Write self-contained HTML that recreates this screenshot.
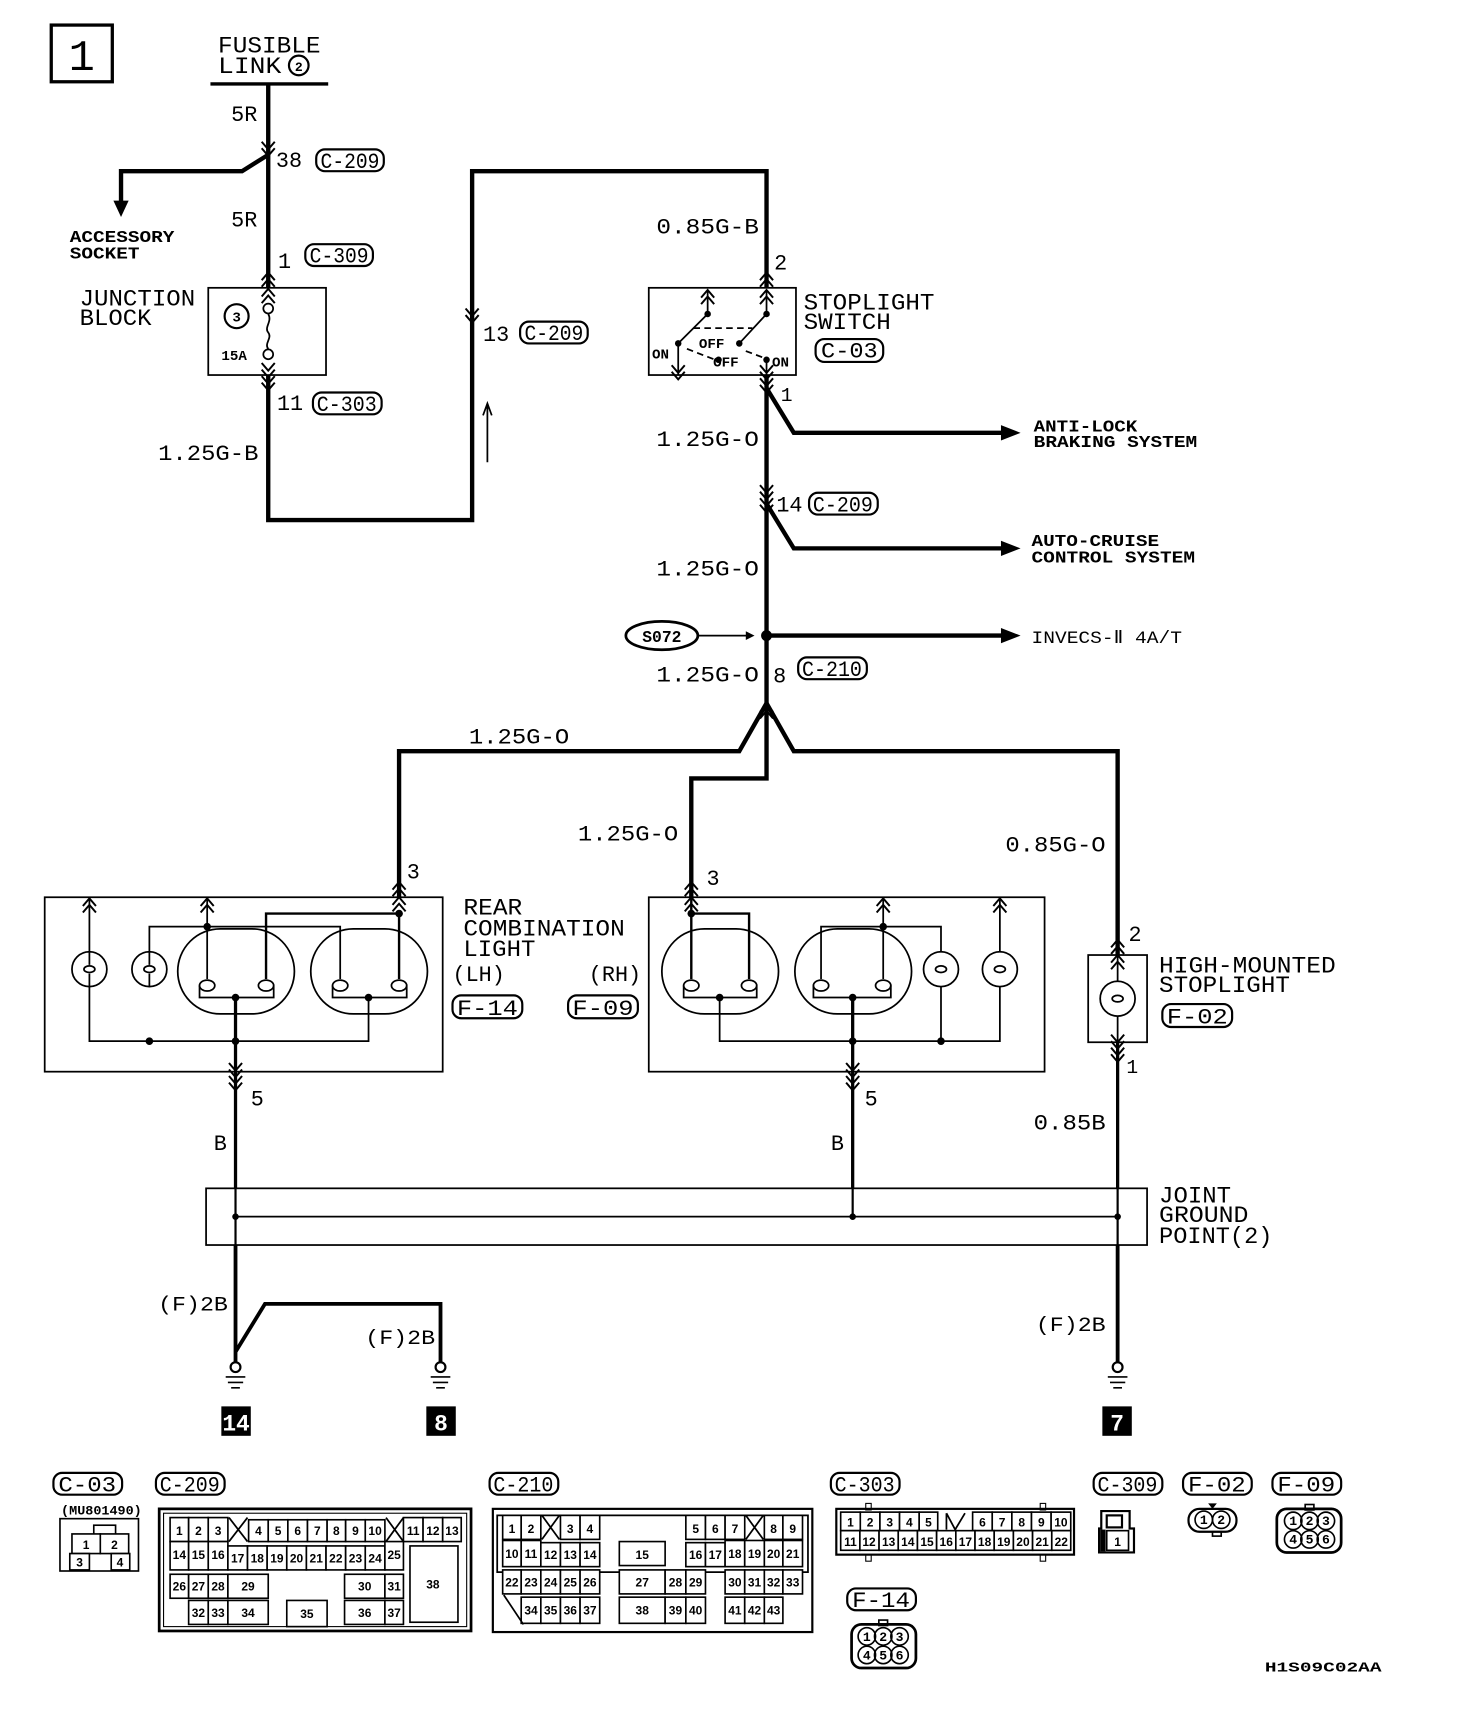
<!DOCTYPE html>
<html><head><meta charset="utf-8"><style>
html,body{margin:0;padding:0;background:#fff}
svg{display:block}
text{font-family:"Liberation Mono","DejaVu Sans Mono",monospace;fill:#000}
.w{stroke:#000;stroke-width:4;fill:none}
.t{stroke:#000;stroke-width:1.6;fill:none}
.b{font-weight:bold}
.c rect{fill:#fff;stroke:#000;stroke-width:1.5}
.c text{font-family:"Liberation Sans",sans-serif;font-weight:bold;font-size:11px;text-anchor:middle}
</style></head><body>
<svg width="1472" height="1716" viewBox="0 0 1350 1574" preserveAspectRatio="none" xmlns="http://www.w3.org/2000/svg">
<defs>
<path id="cd" d="M-6,-7 L0,0 L6,-7 M-6,-1 L0,6 L6,-1" fill="none" stroke="#000" stroke-width="1.8"/>
<path id="cu" d="M-6,7 L0,0 L6,7 M-6,1 L0,-6 L6,1" fill="none" stroke="#000" stroke-width="1.8"/>
<g id="gnd"><circle cx="0" cy="0" r="4.5" fill="#fff" stroke="#000" stroke-width="2"/><path d="M-9,9 H9 M-7,14 H7 M-4,19 H4" stroke="#000" stroke-width="1.5"/></g>
</defs>

<!-- box 1 -->
<rect x="47" y="23" width="56" height="52" fill="none" stroke="#000" stroke-width="3"/>
<text x="75" y="64" font-size="40" text-anchor="middle" font-family="Liberation Sans">1</text>

<!-- fusible link -->
<text x="200" y="48" font-size="21" textLength="94" lengthAdjust="spacingAndGlyphs">FUSIBLE</text>
<text x="200" y="67" font-size="21" textLength="58" lengthAdjust="spacingAndGlyphs">LINK</text>
<circle cx="274" cy="60" r="9" fill="none" stroke="#000" stroke-width="2"/><text x="274" y="65" font-size="12" text-anchor="middle" class="b">2</text>
<line x1="193" y1="77" x2="301" y2="77" stroke="#000" stroke-width="3"/>
<path class="w" d="M246,77 V264"/>
<text x="212" y="111" font-size="20">5R</text>
<use href="#cd" x="246" y="137"/>
<text x="253" y="153" font-size="20">38</text>
<g><rect x="290" y="137" width="62" height="20" rx="8" fill="none" stroke="#000" stroke-width="2"/><text x="321" y="154" font-size="20" text-anchor="middle" textLength="54" lengthAdjust="spacingAndGlyphs">C-209</text></g>
<path class="w" d="M246,142 L222,157 H111 V186"/>
<path d="M104,184 L118,184 L111,199 Z" fill="#000"/>
<text x="64" y="222" font-size="15" class="b" textLength="96" lengthAdjust="spacingAndGlyphs">ACCESSORY</text>
<text x="64" y="237" font-size="15" class="b" textLength="64" lengthAdjust="spacingAndGlyphs">SOCKET</text>
<text x="212" y="208" font-size="20">5R</text>
<text x="255" y="246" font-size="20">1</text>
<g><rect x="280" y="224" width="62" height="20" rx="8" fill="none" stroke="#000" stroke-width="2"/><text x="311" y="241" font-size="20" text-anchor="middle" textLength="54" lengthAdjust="spacingAndGlyphs">C-309</text></g>
<use href="#cu" x="246" y="256"/>

<!-- junction block -->
<text x="73" y="280" font-size="21" textLength="106" lengthAdjust="spacingAndGlyphs">JUNCTION</text>
<text x="73" y="298" font-size="21" textLength="66" lengthAdjust="spacingAndGlyphs">BLOCK</text>
<rect x="191" y="264" width="108" height="80" fill="none" stroke="#000" stroke-width="1.6"/>
<use href="#cu" x="246" y="271"/>
<circle cx="217" cy="290" r="11" fill="none" stroke="#000" stroke-width="2"/><text x="217" y="295" font-size="13" text-anchor="middle" class="b">3</text>
<circle cx="246" cy="283" r="4.5" fill="#fff" stroke="#000" stroke-width="1.6"/>
<circle cx="246" cy="325" r="4.5" fill="#fff" stroke="#000" stroke-width="1.6"/>
<path class="t" d="M246,288 C250,295 242,300 246,305 C250,310 242,315 246,320"/>
<text x="203" y="330" font-size="13" class="b" font-family="Liberation Sans">15A</text>
<use href="#cd" x="246" y="340"/>
<use href="#cd" x="246" y="352"/>
<path class="w" d="M246,344 V477 H433 V157 H703 V264"/>
<text x="254" y="376" font-size="20">11</text>
<g><rect x="287" y="360" width="63" height="20" rx="8" fill="none" stroke="#000" stroke-width="2"/><text x="318" y="377" font-size="20" text-anchor="middle" textLength="55" lengthAdjust="spacingAndGlyphs">C-303</text></g>
<text x="145" y="422" font-size="20" textLength="92" lengthAdjust="spacingAndGlyphs">1.25G-B</text>
<use href="#cd" x="433" y="290"/>
<text x="443" y="313" font-size="20">13</text>
<g><rect x="477" y="295" width="62" height="20" rx="8" fill="none" stroke="#000" stroke-width="2"/><text x="508" y="312" font-size="20" text-anchor="middle" textLength="54" lengthAdjust="spacingAndGlyphs">C-209</text></g>
<path class="t" d="M447,424 V372 M443,381 L447,370 L451,381"/>

<!-- stoplight switch -->
<text x="602" y="214" font-size="20" textLength="94" lengthAdjust="spacingAndGlyphs">0.85G-B</text>
<text x="710" y="247" font-size="20">2</text>
<use href="#cu" x="703" y="256"/>
<rect x="595" y="264" width="135" height="80" fill="none" stroke="#000" stroke-width="1.6"/>
<use href="#cu" x="649" y="272"/><use href="#cu" x="703" y="272"/>
<path class="t" d="M649,266 V288 L622,315 V344 M703,266 V288 L678,315"/>
<circle cx="649" cy="288" r="3" fill="#000"/><circle cx="703" cy="288" r="3" fill="#000"/>
<circle cx="622" cy="315" r="3" fill="#000"/><circle cx="678" cy="315" r="3" fill="#000"/>
<circle cx="659" cy="330" r="3" fill="#000"/><circle cx="703" cy="330" r="3" fill="#000"/>
<path d="M636,301 H690 M630,320 L656,330 M684,322 L700,328" stroke="#000" stroke-width="1.6" stroke-dasharray="6,4" fill="none"/>
<path class="t" d="M703,330 V344"/>
<use href="#cd" x="622" y="342"/><use href="#cd" x="703" y="342"/>
<text x="598" y="329" font-size="13" class="b">ON</text>
<text x="641" y="319" font-size="13" class="b">OFF</text>
<text x="654" y="336" font-size="13" class="b">OFF</text>
<text x="708" y="336" font-size="13" class="b">ON</text>
<text x="737" y="284" font-size="21" textLength="120" lengthAdjust="spacingAndGlyphs">STOPLIGHT</text>
<text x="737" y="302" font-size="21" textLength="80" lengthAdjust="spacingAndGlyphs">SWITCH</text>
<g><rect x="748" y="311" width="62" height="21" rx="8" fill="none" stroke="#000" stroke-width="2"/><text x="779" y="328" font-size="20" text-anchor="middle" textLength="52" lengthAdjust="spacingAndGlyphs">C-03</text></g>
<use href="#cd" x="703" y="354"/>
<text x="716" y="368" font-size="18">1</text>
<path class="w" d="M703,344 V645"/>
<path class="w" d="M703,356 L728,397 H920"/>
<path d="M918,390 L936,397 L918,404 Z" fill="#000"/>
<text x="948" y="396" font-size="15" class="b" textLength="95" lengthAdjust="spacingAndGlyphs">ANTI-LOCK</text>
<text x="948" y="410" font-size="15" class="b" textLength="150" lengthAdjust="spacingAndGlyphs">BRAKING SYSTEM</text>
<text x="602" y="409" font-size="20" textLength="94" lengthAdjust="spacingAndGlyphs">1.25G-O</text>
<use href="#cd" x="703" y="452"/><use href="#cd" x="703" y="464"/>
<text x="712" y="469" font-size="20">14</text>
<g><rect x="742" y="452" width="63" height="20" rx="8" fill="none" stroke="#000" stroke-width="2"/><text x="773" y="469" font-size="20" text-anchor="middle" textLength="55" lengthAdjust="spacingAndGlyphs">C-209</text></g>
<path class="w" d="M703,462 L728,503 H920"/>
<path d="M918,496 L936,503 L918,510 Z" fill="#000"/>
<text x="946" y="501" font-size="15" class="b" textLength="117" lengthAdjust="spacingAndGlyphs">AUTO-CRUISE</text>
<text x="946" y="516" font-size="15" class="b" textLength="150" lengthAdjust="spacingAndGlyphs">CONTROL SYSTEM</text>
<text x="602" y="528" font-size="20" textLength="94" lengthAdjust="spacingAndGlyphs">1.25G-O</text>
<ellipse cx="607" cy="583" rx="33" ry="13" fill="#fff" stroke="#000" stroke-width="2.5"/>
<text x="607" y="589" font-size="15" class="b" text-anchor="middle" font-family="Liberation Sans">S072</text>
<path class="t" d="M640,583 H686"/><path d="M684,579 L692,583 L684,587 Z" fill="#000"/>
<circle cx="703" cy="583" r="5" fill="#000"/>
<path class="w" d="M703,583 H920"/>
<path d="M918,576 L936,583 L918,590 Z" fill="#000"/>
<text x="946" y="590" font-size="16" textLength="138" lengthAdjust="spacingAndGlyphs">INVECS-Ⅱ 4A/T</text>
<text x="602" y="625" font-size="20" textLength="94" lengthAdjust="spacingAndGlyphs">1.25G-O</text>
<text x="709" y="626" font-size="20">8</text>
<g><rect x="732" y="603" width="63" height="20" rx="8" fill="none" stroke="#000" stroke-width="2"/><text x="763" y="620" font-size="20" text-anchor="middle" textLength="55" lengthAdjust="spacingAndGlyphs">C-210</text></g>
<use href="#cu" x="703" y="652"/>

<!-- branches -->
<path class="w" d="M703,645 L678,689 H366 V823"/>
<path class="w" d="M703,645 V714 H634 V823"/>
<path class="w" d="M703,645 L728,689 H1025 V876"/>
<text x="430" y="682" font-size="20" textLength="92" lengthAdjust="spacingAndGlyphs">1.25G-O</text>
<text x="530" y="771" font-size="20" textLength="92" lengthAdjust="spacingAndGlyphs">1.25G-O</text>
<text x="922" y="781" font-size="20" textLength="92" lengthAdjust="spacingAndGlyphs">0.85G-O</text>
<text x="373" y="806" font-size="20">3</text>
<text x="648" y="812" font-size="20">3</text>
<text x="1035" y="863" font-size="20">2</text>
<use href="#cu" x="366" y="815"/><use href="#cu" x="366" y="829"/>
<use href="#cu" x="634" y="815"/><use href="#cu" x="634" y="829"/>
<use href="#cu" x="1025" y="868"/><use href="#cu" x="1025" y="882"/>

<!-- LH lamp -->
<rect x="41" y="823" width="365" height="160" fill="none" stroke="#000" stroke-width="1.6"/>
<use href="#cu" x="82" y="830"/><use href="#cu" x="190" y="830"/>
<circle cx="82" cy="889" r="16" fill="none" stroke="#000" stroke-width="1.6"/>
<circle cx="137" cy="889" r="16" fill="none" stroke="#000" stroke-width="1.6"/>
<path class="t" d="M82,873 V885 M82,893 V905 M137,873 V885 M137,893 V905"/>
<ellipse cx="82" cy="889" rx="5" ry="3" class="t"/><ellipse cx="137" cy="889" rx="5" ry="3" class="t"/>
<rect x="163" y="852" width="107" height="78" rx="39" fill="none" stroke="#000" stroke-width="1.6"/>
<rect x="285" y="852" width="107" height="78" rx="39" fill="none" stroke="#000" stroke-width="1.6"/>
<path class="t" d="M82,823 V873 M82,905 V955 H338 V915 M137,873 V850 H312 V898 M190,823 V898"/>
<path d="M244,898 V838 H366 V898" stroke="#000" stroke-width="2.2" fill="none"/>
<ellipse cx="190" cy="904" rx="7" ry="5" class="t"/><ellipse cx="244" cy="904" rx="7" ry="5" class="t"/>
<ellipse cx="312" cy="904" rx="7" ry="5" class="t"/><ellipse cx="366" cy="904" rx="7" ry="5" class="t"/>
<path class="t" d="M183,904 V915 H251 V904 M305,904 V915 H373 V904"/>
<circle cx="190" cy="850" r="3.5" fill="#000"/><circle cx="366" cy="838" r="3.5" fill="#000"/>
<circle cx="216" cy="915" r="3.5" fill="#000"/><circle cx="338" cy="915" r="3.5" fill="#000"/>
<circle cx="137" cy="955" r="3.5" fill="#000"/><circle cx="216" cy="955" r="3.5" fill="#000"/>
<path class="w" d="M216,915 V1090" style="stroke-width:3"/>
<use href="#cd" x="216" y="982"/><use href="#cd" x="216" y="994"/>
<text x="425" y="839" font-size="21" textLength="54" lengthAdjust="spacingAndGlyphs">REAR</text>
<text x="425" y="858" font-size="21" textLength="148" lengthAdjust="spacingAndGlyphs">COMBINATION</text>
<text x="425" y="877" font-size="21" textLength="66" lengthAdjust="spacingAndGlyphs">LIGHT</text>
<text x="415" y="900" font-size="20">(LH)</text>
<text x="540" y="900" font-size="20">(RH)</text>
<g><rect x="415" y="913" width="64" height="21" rx="8" fill="none" stroke="#000" stroke-width="2"/><text x="447" y="931" font-size="20" text-anchor="middle" textLength="56" lengthAdjust="spacingAndGlyphs">F-14</text></g>
<g><rect x="521" y="913" width="64" height="21" rx="8" fill="none" stroke="#000" stroke-width="2"/><text x="553" y="931" font-size="20" text-anchor="middle" textLength="56" lengthAdjust="spacingAndGlyphs">F-09</text></g>

<!-- RH lamp -->
<rect x="595" y="823" width="363" height="160" fill="none" stroke="#000" stroke-width="1.6"/>
<use href="#cu" x="810" y="830"/><use href="#cu" x="917" y="830"/>
<rect x="607" y="852" width="107" height="78" rx="39" fill="none" stroke="#000" stroke-width="1.6"/>
<rect x="729" y="852" width="107" height="78" rx="39" fill="none" stroke="#000" stroke-width="1.6"/>
<circle cx="863" cy="889" r="16" fill="none" stroke="#000" stroke-width="1.6"/>
<circle cx="917" cy="889" r="16" fill="none" stroke="#000" stroke-width="1.6"/>
<ellipse cx="863" cy="889" rx="5" ry="3" class="t"/><ellipse cx="917" cy="889" rx="5" ry="3" class="t"/>
<path d="M634,823 V898 M634,838 H687 V898" stroke="#000" stroke-width="2.2" fill="none"/>
<path class="t" d="M753,898 V850 H863 V873 M863,905 V955 H660 V915 M810,823 V898 M917,823 V873 M917,905 V955 H863"/>
<ellipse cx="634" cy="904" rx="7" ry="5" class="t"/><ellipse cx="687" cy="904" rx="7" ry="5" class="t"/>
<ellipse cx="753" cy="904" rx="7" ry="5" class="t"/><ellipse cx="810" cy="904" rx="7" ry="5" class="t"/>
<path class="t" d="M627,904 V915 H694 V904 M746,904 V915 H817 V904"/>
<circle cx="810" cy="850" r="3.5" fill="#000"/><circle cx="634" cy="838" r="3.5" fill="#000"/>
<circle cx="660" cy="915" r="3.5" fill="#000"/><circle cx="782" cy="915" r="3.5" fill="#000"/>
<circle cx="782" cy="955" r="3.5" fill="#000"/><circle cx="863" cy="955" r="3.5" fill="#000"/>
<path class="w" d="M782,915 V1090" style="stroke-width:3"/>
<use href="#cd" x="782" y="982"/><use href="#cd" x="782" y="994"/>

<!-- high mounted -->
<rect x="998" y="876" width="54" height="80" fill="none" stroke="#000" stroke-width="1.6"/>
<circle cx="1025" cy="916" r="16" fill="none" stroke="#000" stroke-width="1.6"/>
<ellipse cx="1025" cy="916" rx="5" ry="3" class="t"/>
<path class="t" d="M1025,876 V900 M1025,932 V956"/>
<use href="#cd" x="1025" y="956"/><use href="#cd" x="1025" y="968"/>
<text x="1063" y="892" font-size="21" textLength="162" lengthAdjust="spacingAndGlyphs">HIGH-MOUNTED</text>
<text x="1063" y="910" font-size="21" textLength="120" lengthAdjust="spacingAndGlyphs">STOPLIGHT</text>
<g><rect x="1066" y="921" width="64" height="21" rx="8" fill="none" stroke="#000" stroke-width="2"/><text x="1098" y="939" font-size="20" text-anchor="middle" textLength="56" lengthAdjust="spacingAndGlyphs">F-02</text></g>
<path class="w" d="M1025,956 V1090" style="stroke-width:3"/>
<text x="1033" y="984" font-size="18">1</text>
<text x="230" y="1014" font-size="20">5</text>
<text x="793" y="1014" font-size="20">5</text>
<text x="196" y="1055" font-size="20">B</text>
<text x="762" y="1055" font-size="20">B</text>
<text x="948" y="1036" font-size="20" textLength="66" lengthAdjust="spacingAndGlyphs">0.85B</text>

<!-- joint ground -->
<rect x="189" y="1090" width="863" height="52" fill="none" stroke="#000" stroke-width="1.6"/>
<path class="t" d="M216,1116 H1025"/>
<circle cx="216" cy="1116" r="3" fill="#000"/><circle cx="782" cy="1116" r="3" fill="#000"/><circle cx="1025" cy="1116" r="3" fill="#000"/>
<path class="w" d="M216,1090 V1142 M782,1090 V1116 M1025,1090 V1142" style="stroke-width:2"/>
<text x="1063" y="1103" font-size="21" textLength="66" lengthAdjust="spacingAndGlyphs">JOINT</text>
<text x="1063" y="1121" font-size="21" textLength="82" lengthAdjust="spacingAndGlyphs">GROUND</text>
<text x="1063" y="1140" font-size="21" textLength="104" lengthAdjust="spacingAndGlyphs">POINT(2)</text>
<path class="w" d="M216,1142 V1249 M216,1240 L243,1196 H404 V1249 M1025,1142 V1249" style="stroke-width:3.5"/>
<text x="145" y="1202" font-size="19" textLength="64" lengthAdjust="spacingAndGlyphs">(F)2B</text>
<text x="335" y="1233" font-size="19" textLength="64" lengthAdjust="spacingAndGlyphs">(F)2B</text>
<text x="950" y="1221" font-size="19" textLength="64" lengthAdjust="spacingAndGlyphs">(F)2B</text>
<use href="#gnd" x="216" y="1254"/><use href="#gnd" x="404" y="1254"/><use href="#gnd" x="1025" y="1254"/>
<rect x="203" y="1290" width="27" height="27" fill="#000"/><text x="216.5" y="1312" font-size="21" fill="#fff" style="fill:#fff" text-anchor="middle" class="b" font-family="Liberation Sans">14</text>
<rect x="391" y="1290" width="27" height="27" fill="#000"/><text x="404.5" y="1312" font-size="21" style="fill:#fff" text-anchor="middle" class="b" font-family="Liberation Sans">8</text>
<rect x="1011" y="1290" width="27" height="27" fill="#000"/><text x="1024.5" y="1312" font-size="21" style="fill:#fff" text-anchor="middle" class="b" font-family="Liberation Sans">7</text>

<!-- bottom connector tags -->
<g font-size="20">
<rect x="49" y="1351" width="63" height="20" rx="8" fill="none" stroke="#000" stroke-width="2"/><text x="80" y="1368" text-anchor="middle" textLength="53" lengthAdjust="spacingAndGlyphs">C-03</text>
<rect x="143" y="1351" width="63" height="20" rx="8" fill="none" stroke="#000" stroke-width="2"/><text x="174" y="1368" text-anchor="middle" textLength="55" lengthAdjust="spacingAndGlyphs">C-209</text>
<rect x="449" y="1351" width="63" height="20" rx="8" fill="none" stroke="#000" stroke-width="2"/><text x="480" y="1368" text-anchor="middle" textLength="55" lengthAdjust="spacingAndGlyphs">C-210</text>
<rect x="762" y="1351" width="63" height="20" rx="8" fill="none" stroke="#000" stroke-width="2"/><text x="793" y="1368" text-anchor="middle" textLength="55" lengthAdjust="spacingAndGlyphs">C-303</text>
<rect x="1003" y="1351" width="63" height="20" rx="8" fill="none" stroke="#000" stroke-width="2"/><text x="1034" y="1368" text-anchor="middle" textLength="55" lengthAdjust="spacingAndGlyphs">C-309</text>
<rect x="1085" y="1351" width="63" height="20" rx="8" fill="none" stroke="#000" stroke-width="2"/><text x="1116" y="1368" text-anchor="middle" textLength="53" lengthAdjust="spacingAndGlyphs">F-02</text>
<rect x="1167" y="1351" width="63" height="20" rx="8" fill="none" stroke="#000" stroke-width="2"/><text x="1198" y="1368" text-anchor="middle" textLength="53" lengthAdjust="spacingAndGlyphs">F-09</text>
<rect x="777" y="1457" width="63" height="20" rx="8" fill="none" stroke="#000" stroke-width="2"/><text x="808" y="1474" text-anchor="middle" textLength="53" lengthAdjust="spacingAndGlyphs">F-14</text>
</g>

<!-- C-03 -->
<text x="56" y="1389" font-size="12" class="b" font-family="Liberation Sans" textLength="74" lengthAdjust="spacingAndGlyphs">(MU801490)</text>
<rect x="55" y="1393" width="72" height="48" fill="none" stroke="#000" stroke-width="1.5"/>
<g class="c">
<rect x="86" y="1399" width="20" height="9"/>
<rect x="66" y="1407" width="26" height="18"/><text x="79" y="1421">1</text>
<rect x="92" y="1407" width="26" height="18"/><text x="105" y="1421">2</text>
<rect x="64" y="1425" width="18" height="15"/><text x="73" y="1437">3</text>
<rect x="102" y="1425" width="17" height="15"/><text x="110" y="1437">4</text>
</g>

<!-- C-209 -->
<rect x="146" y="1384" width="286" height="112" fill="none" stroke="#000" stroke-width="2.5"/>
<rect x="150" y="1388" width="278" height="104" fill="none" stroke="#000" stroke-width="1"/>
<g class="c">
<rect x="156" y="1392" width="17" height="22"/><text x="164.5" y="1408">1</text>
<rect x="173" y="1392" width="18" height="22"/><text x="182" y="1408">2</text>
<rect x="191" y="1392" width="18" height="22"/><text x="200" y="1408">3</text>
<rect x="228" y="1394" width="18" height="20"/><text x="237" y="1408">4</text>
<rect x="246" y="1394" width="18" height="20"/><text x="255" y="1408">5</text>
<rect x="264" y="1394" width="18" height="20"/><text x="273" y="1408">6</text>
<rect x="282" y="1394" width="18" height="20"/><text x="291" y="1408">7</text>
<rect x="300" y="1394" width="17" height="20"/><text x="308.5" y="1408">8</text>
<rect x="317" y="1394" width="18" height="20"/><text x="326" y="1408">9</text>
<rect x="335" y="1394" width="18" height="20"/><text x="344" y="1408">10</text>
<rect x="370" y="1392" width="18" height="22"/><text x="379" y="1408">11</text>
<rect x="388" y="1392" width="18" height="22"/><text x="397" y="1408">12</text>
<rect x="406" y="1392" width="17" height="22"/><text x="414.5" y="1408">13</text>
<rect x="156" y="1414" width="17" height="26"/><text x="164.5" y="1430">14</text>
<rect x="173" y="1414" width="18" height="26"/><text x="182" y="1430">15</text>
<rect x="191" y="1414" width="18" height="26"/><text x="200" y="1430">16</text>
<rect x="209" y="1418" width="18" height="22"/><text x="218" y="1433">17</text>
<rect x="227" y="1418" width="18" height="22"/><text x="236" y="1433">18</text>
<rect x="245" y="1418" width="18" height="22"/><text x="254" y="1433">19</text>
<rect x="263" y="1418" width="18" height="22"/><text x="272" y="1433">20</text>
<rect x="281" y="1418" width="18" height="22"/><text x="290" y="1433">21</text>
<rect x="299" y="1418" width="18" height="22"/><text x="308" y="1433">22</text>
<rect x="317" y="1418" width="18" height="22"/><text x="326" y="1433">23</text>
<rect x="335" y="1418" width="18" height="22"/><text x="344" y="1433">24</text>
<rect x="353" y="1414" width="17" height="26"/><text x="361.5" y="1430">25</text>
<rect x="156" y="1444" width="17" height="22"/><text x="164.5" y="1459">26</text>
<rect x="173" y="1444" width="18" height="22"/><text x="182" y="1459">27</text>
<rect x="191" y="1444" width="18" height="22"/><text x="200" y="1459">28</text>
<rect x="209" y="1444" width="37" height="22"/><text x="227.5" y="1459">29</text>
<rect x="316" y="1444" width="37" height="22"/><text x="334.5" y="1459">30</text>
<rect x="353" y="1444" width="17" height="22"/><text x="361.5" y="1459">31</text>
<rect x="173" y="1468" width="18" height="22"/><text x="182" y="1483">32</text>
<rect x="191" y="1468" width="18" height="22"/><text x="200" y="1483">33</text>
<rect x="209" y="1468" width="37" height="22"/><text x="227.5" y="1483">34</text>
<rect x="263" y="1468" width="37" height="24"/><text x="281.5" y="1484">35</text>
<rect x="316" y="1468" width="37" height="22"/><text x="334.5" y="1483">36</text>
<rect x="353" y="1468" width="17" height="22"/><text x="361.5" y="1483">37</text>
<rect x="376" y="1418" width="44" height="70"/><text x="397" y="1457">38</text>
</g>
<path class="t" d="M210,1392 L227,1414 M227,1392 L210,1414 M354,1392 L370,1414 M370,1392 L354,1414"/>

<!-- C-210 -->
<rect x="452" y="1384" width="293" height="113" fill="none" stroke="#000" stroke-width="2"/>
<path class="t" d="M456,1390 H741 V1442 H456 Z"/>
<g class="c">
<rect x="461" y="1390" width="17" height="22"/><text x="469.5" y="1406">1</text>
<rect x="478" y="1390" width="18" height="22"/><text x="487" y="1406">2</text>
<rect x="514" y="1390" width="18" height="22"/><text x="523" y="1406">3</text>
<rect x="532" y="1390" width="18" height="22"/><text x="541" y="1406">4</text>
<rect x="629" y="1390" width="18" height="22"/><text x="638" y="1406">5</text>
<rect x="647" y="1390" width="18" height="22"/><text x="656" y="1406">6</text>
<rect x="665" y="1390" width="18" height="22"/><text x="674" y="1406">7</text>
<rect x="701" y="1390" width="17" height="22"/><text x="709.5" y="1406">8</text>
<rect x="718" y="1390" width="18" height="22"/><text x="727" y="1406">9</text>
<rect x="461" y="1413" width="17" height="24"/><text x="469.5" y="1429">10</text>
<rect x="478" y="1413" width="18" height="24"/><text x="487" y="1429">11</text>
<rect x="496" y="1415" width="18" height="22"/><text x="505" y="1430">12</text>
<rect x="514" y="1415" width="18" height="22"/><text x="523" y="1430">13</text>
<rect x="532" y="1415" width="18" height="22"/><text x="541" y="1430">14</text>
<rect x="568" y="1414" width="42" height="22"/><text x="589" y="1430">15</text>
<rect x="629" y="1415" width="18" height="22"/><text x="638" y="1430">16</text>
<rect x="647" y="1415" width="18" height="22"/><text x="656" y="1430">17</text>
<rect x="665" y="1413" width="18" height="24"/><text x="674" y="1429">18</text>
<rect x="683" y="1413" width="18" height="24"/><text x="692" y="1429">19</text>
<rect x="701" y="1413" width="17" height="24"/><text x="709.5" y="1429">20</text>
<rect x="718" y="1413" width="18" height="24"/><text x="727" y="1429">21</text>
<rect x="461" y="1440" width="17" height="22"/><text x="469.5" y="1455">22</text>
<rect x="478" y="1440" width="18" height="22"/><text x="487" y="1455">23</text>
<rect x="496" y="1440" width="18" height="22"/><text x="505" y="1455">24</text>
<rect x="514" y="1440" width="18" height="22"/><text x="523" y="1455">25</text>
<rect x="532" y="1440" width="18" height="22"/><text x="541" y="1455">26</text>
<rect x="568" y="1440" width="42" height="22"/><text x="589" y="1455">27</text>
<rect x="610" y="1440" width="19" height="22"/><text x="619.5" y="1455">28</text>
<rect x="629" y="1440" width="18" height="22"/><text x="638" y="1455">29</text>
<rect x="665" y="1440" width="18" height="22"/><text x="674" y="1455">30</text>
<rect x="683" y="1440" width="18" height="22"/><text x="692" y="1455">31</text>
<rect x="701" y="1440" width="17" height="22"/><text x="709.5" y="1455">32</text>
<rect x="718" y="1440" width="18" height="22"/><text x="727" y="1455">33</text>
<rect x="478" y="1465" width="18" height="24"/><text x="487" y="1481">34</text>
<rect x="496" y="1465" width="18" height="24"/><text x="505" y="1481">35</text>
<rect x="514" y="1465" width="18" height="24"/><text x="523" y="1481">36</text>
<rect x="532" y="1465" width="18" height="24"/><text x="541" y="1481">37</text>
<rect x="568" y="1465" width="42" height="24"/><text x="589" y="1481">38</text>
<rect x="610" y="1465" width="19" height="24"/><text x="619.5" y="1481">39</text>
<rect x="629" y="1465" width="18" height="24"/><text x="638" y="1481">40</text>
<rect x="665" y="1465" width="18" height="24"/><text x="674" y="1481">41</text>
<rect x="683" y="1465" width="18" height="24"/><text x="692" y="1481">42</text>
<rect x="701" y="1465" width="17" height="24"/><text x="709.5" y="1481">43</text>
</g>
<path class="t" d="M497,1390 L513,1412 M513,1390 L497,1412 M684,1390 L700,1412 M700,1390 L684,1412 M462,1463 L480,1490"/>

<!-- C-303 -->
<rect x="767" y="1384" width="218" height="42" fill="none" stroke="#000" stroke-width="2"/>
<rect x="794" y="1379" width="5" height="6" fill="none" stroke="#000"/><rect x="954" y="1379" width="5" height="6" fill="none" stroke="#000"/>
<rect x="794" y="1426" width="5" height="6" fill="none" stroke="#000"/><rect x="954" y="1426" width="5" height="6" fill="none" stroke="#000"/>
<g class="c">
<rect x="771" y="1387" width="18" height="17"/><text x="780" y="1400">1</text>
<rect x="789" y="1387" width="18" height="17"/><text x="798" y="1400">2</text>
<rect x="807" y="1387" width="18" height="17"/><text x="816" y="1400">3</text>
<rect x="825" y="1387" width="18" height="17"/><text x="834" y="1400">4</text>
<rect x="843" y="1387" width="17" height="17"/><text x="851.5" y="1400">5</text>
<rect x="892" y="1387" width="18" height="17"/><text x="901" y="1400">6</text>
<rect x="910" y="1387" width="18" height="17"/><text x="919" y="1400">7</text>
<rect x="928" y="1387" width="18" height="17"/><text x="937" y="1400">8</text>
<rect x="946" y="1387" width="18" height="17"/><text x="955" y="1400">9</text>
<rect x="964" y="1387" width="18" height="17"/><text x="973" y="1400">10</text>
<rect x="771" y="1404" width="17.6" height="18"/><text x="780" y="1418">11</text>
<rect x="788.6" y="1404" width="17.6" height="18"/><text x="797" y="1418">12</text>
<rect x="806.2" y="1404" width="17.6" height="18"/><text x="815" y="1418">13</text>
<rect x="823.8" y="1404" width="17.6" height="18"/><text x="832.6" y="1418">14</text>
<rect x="841.4" y="1404" width="17.6" height="18"/><text x="850.2" y="1418">15</text>
<rect x="859" y="1404" width="17.6" height="18"/><text x="867.8" y="1418">16</text>
<rect x="876.6" y="1404" width="17.6" height="18"/><text x="885.4" y="1418">17</text>
<rect x="894.2" y="1404" width="17.6" height="18"/><text x="903" y="1418">18</text>
<rect x="911.8" y="1404" width="17.6" height="18"/><text x="920.6" y="1418">19</text>
<rect x="929.4" y="1404" width="17.6" height="18"/><text x="938.2" y="1418">20</text>
<rect x="947" y="1404" width="17.6" height="18"/><text x="955.8" y="1418">21</text>
<rect x="964.6" y="1404" width="17.4" height="18"/><text x="973.3" y="1418">22</text>
</g>
<path class="t" d="M868,1388 V1403 M868,1388 L876,1403 L885,1388"/>

<!-- C-309 -->
<path d="M1010,1386 H1036 V1402 H1040 V1424 H1008 V1402 H1010 Z" fill="none" stroke="#000" stroke-width="2"/>
<rect x="1015" y="1390" width="14" height="11" fill="none" stroke="#000" stroke-width="2"/>
<rect x="1009" y="1403" width="5" height="20" fill="#000"/>
<g class="c"><rect x="1015" y="1404" width="20" height="18"/><text x="1025" y="1418">1</text></g>

<!-- F-02 -->
<rect x="1090" y="1384" width="44" height="21" rx="10" fill="none" stroke="#000" stroke-width="2"/>
<path d="M1108,1379 L1116,1379 L1112,1384 Z" fill="#000"/>
<rect x="1112" y="1405" width="8" height="4" fill="none" stroke="#000" stroke-width="1.5"/>
<g font-family="Liberation Sans" font-weight="bold" font-size="12" text-anchor="middle">
<circle cx="1104" cy="1394" r="8" fill="none" stroke="#000" stroke-width="1.5"/><text x="1104" y="1398">1</text>
<circle cx="1120" cy="1394" r="8" fill="none" stroke="#000" stroke-width="1.5"/><text x="1120" y="1398">2</text>
</g>

<!-- F-09 -->
<rect x="1171" y="1384" width="59" height="40" rx="9" fill="none" stroke="#000" stroke-width="2.5"/>
<rect x="1197" y="1380" width="8" height="5" fill="none" stroke="#000" stroke-width="1.5"/>
<g font-family="Liberation Sans" font-weight="bold" font-size="12" text-anchor="middle">
<circle cx="1186" cy="1395" r="8" fill="none" stroke="#000" stroke-width="1.5"/><text x="1186" y="1399">1</text>
<circle cx="1201" cy="1395" r="8" fill="none" stroke="#000" stroke-width="1.5"/><text x="1201" y="1399">2</text>
<circle cx="1216" cy="1395" r="8" fill="none" stroke="#000" stroke-width="1.5"/><text x="1216" y="1399">3</text>
<circle cx="1186" cy="1412" r="8" fill="none" stroke="#000" stroke-width="1.5"/><text x="1186" y="1416">4</text>
<circle cx="1201" cy="1412" r="8" fill="none" stroke="#000" stroke-width="1.5"/><text x="1201" y="1416">5</text>
<circle cx="1216" cy="1412" r="8" fill="none" stroke="#000" stroke-width="1.5"/><text x="1216" y="1416">6</text>
</g>

<!-- F-14 -->
<rect x="781" y="1490" width="59" height="40" rx="9" fill="none" stroke="#000" stroke-width="2.5"/>
<rect x="806" y="1486" width="8" height="5" fill="none" stroke="#000" stroke-width="1.5"/>
<g font-family="Liberation Sans" font-weight="bold" font-size="12" text-anchor="middle">
<circle cx="795" cy="1501" r="8" fill="none" stroke="#000" stroke-width="1.5"/><text x="795" y="1505">1</text>
<circle cx="810" cy="1501" r="8" fill="none" stroke="#000" stroke-width="1.5"/><text x="810" y="1505">2</text>
<circle cx="825" cy="1501" r="8" fill="none" stroke="#000" stroke-width="1.5"/><text x="825" y="1505">3</text>
<circle cx="795" cy="1518" r="8" fill="none" stroke="#000" stroke-width="1.5"/><text x="795" y="1522">4</text>
<circle cx="810" cy="1518" r="8" fill="none" stroke="#000" stroke-width="1.5"/><text x="810" y="1522">5</text>
<circle cx="825" cy="1518" r="8" fill="none" stroke="#000" stroke-width="1.5"/><text x="825" y="1522">6</text>
</g>

<text x="1160" y="1533" font-size="13" class="b" font-family="Liberation Sans" textLength="107" lengthAdjust="spacingAndGlyphs">H1S09C02AA</text>
</svg>
</body></html>
